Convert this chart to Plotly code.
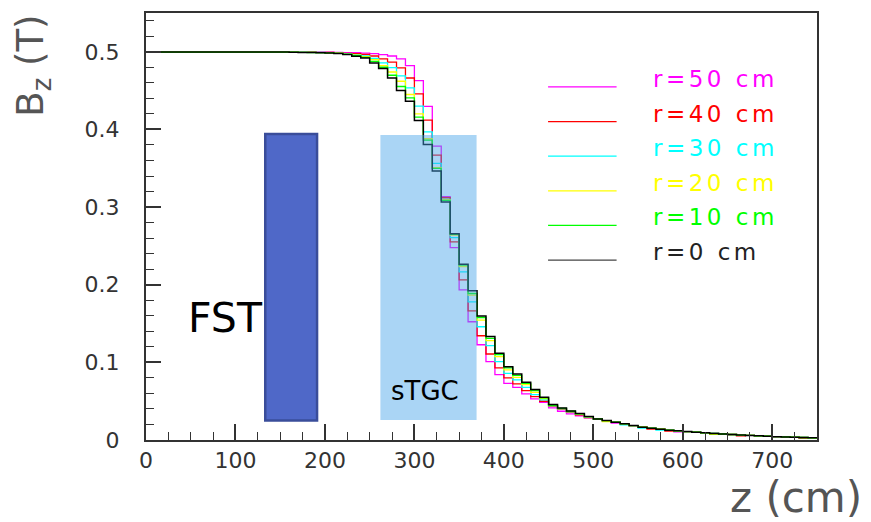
import plotly.graph_objects as go

# ---------------- data ----------------
z_edges = list(range(0, 760, 10))  # bin edges in cm (75 bins of 10 cm)

series_labels = ["r=50 cm", "r=40 cm", "r=30 cm", "r=20 cm", "r=10 cm", "r=0 cm"]
series_colors = ["#ff00ff", "#ff0000", "#00ffff", "#ffff00", "#00ff00", "#000000"]

bz_r50 = [0.4997, 0.4997, 0.4997, 0.4997, 0.4997, 0.4997, 0.4997, 0.4997, 0.4997, 0.4997,
          0.4997, 0.4997, 0.4997, 0.4997, 0.4997, 0.4997, 0.4997, 0.4997, 0.4996, 0.4996,
          0.4995, 0.4993, 0.4990, 0.4988, 0.4984, 0.4978, 0.4963, 0.4946, 0.4910, 0.4823,
          0.4630, 0.4296, 0.3785, 0.3134, 0.2478, 0.1934, 0.1523, 0.1227, 0.1009, 0.0842,
          0.0730, 0.0679, 0.0594, 0.0530, 0.0486, 0.0414, 0.0370, 0.0337, 0.0312, 0.0285,
          0.0272, 0.0250, 0.0217, 0.0208, 0.0186, 0.0165, 0.0152, 0.0139, 0.0126, 0.0106,
          0.0109, 0.0100, 0.0093, 0.0084, 0.0077, 0.0071, 0.0064, 0.0059, 0.0054, 0.0049,
          0.0043, 0.0040, 0.0036, 0.0032, 0.0028]

bz_r40 = [0.4997, 0.4997, 0.4997, 0.4997, 0.4997, 0.4997, 0.4997, 0.4997, 0.4997, 0.4997,
          0.4997, 0.4997, 0.4997, 0.4997, 0.4997, 0.4997, 0.4997, 0.4996, 0.4995, 0.4994,
          0.4993, 0.4987, 0.4981, 0.4978, 0.4968, 0.4946, 0.4910, 0.4867, 0.4792, 0.4663,
          0.4458, 0.4120, 0.3670, 0.3120, 0.2551, 0.2063, 0.1664, 0.1343, 0.1108, 0.0928,
          0.0800, 0.0722, 0.0636, 0.0559, 0.0499, 0.0432, 0.0395, 0.0356, 0.0325, 0.0290,
          0.0272, 0.0250, 0.0229, 0.0208, 0.0186, 0.0165, 0.0140, 0.0139, 0.0114, 0.0118,
          0.0109, 0.0100, 0.0093, 0.0084, 0.0077, 0.0071, 0.0052, 0.0059, 0.0054, 0.0049,
          0.0043, 0.0040, 0.0036, 0.0020, 0.0028]

bz_r30 = [0.4997, 0.4997, 0.4997, 0.4997, 0.4997, 0.4997, 0.4997, 0.4997, 0.4997, 0.4997,
          0.4997, 0.4997, 0.4997, 0.4997, 0.4997, 0.4997, 0.4996, 0.4995, 0.4993, 0.4991,
          0.4989, 0.4984, 0.4975, 0.4965, 0.4948, 0.4916, 0.4858, 0.4796, 0.4690, 0.4535,
          0.4300, 0.3969, 0.3563, 0.3100, 0.2607, 0.2166, 0.1780, 0.1459, 0.1215, 0.1009,
          0.0859, 0.0774, 0.0679, 0.0585, 0.0517, 0.0440, 0.0400, 0.0362, 0.0330, 0.0294,
          0.0272, 0.0250, 0.0229, 0.0196, 0.0186, 0.0153, 0.0152, 0.0127, 0.0126, 0.0118,
          0.0109, 0.0100, 0.0093, 0.0084, 0.0077, 0.0071, 0.0064, 0.0059, 0.0054, 0.0049,
          0.0043, 0.0040, 0.0036, 0.0032, 0.0028]

bz_r20 = [0.4997, 0.4997, 0.4997, 0.4997, 0.4997, 0.4997, 0.4997, 0.4997, 0.4997, 0.4997,
          0.4997, 0.4997, 0.4997, 0.4997, 0.4997, 0.4997, 0.4996, 0.4994, 0.4992, 0.4990,
          0.4988, 0.4982, 0.4970, 0.4958, 0.4938, 0.4900, 0.4823, 0.4740, 0.4621, 0.4450,
          0.4201, 0.3880, 0.3507, 0.3095, 0.2640, 0.2235, 0.1865, 0.1545, 0.1279, 0.1073,
          0.0902, 0.0807, 0.0713, 0.0614, 0.0533, 0.0444, 0.0404, 0.0367, 0.0334, 0.0298,
          0.0272, 0.0238, 0.0229, 0.0208, 0.0186, 0.0165, 0.0152, 0.0139, 0.0126, 0.0118,
          0.0109, 0.0100, 0.0093, 0.0072, 0.0077, 0.0071, 0.0064, 0.0059, 0.0054, 0.0049,
          0.0043, 0.0040, 0.0036, 0.0032, 0.0028]

bz_r10 = [0.4997, 0.4997, 0.4997, 0.4997, 0.4997, 0.4997, 0.4997, 0.4997, 0.4997, 0.4997,
          0.4997, 0.4997, 0.4997, 0.4997, 0.4997, 0.4997, 0.4995, 0.4993, 0.4991, 0.4989,
          0.4987, 0.4980, 0.4968, 0.4951, 0.4929, 0.4878, 0.4801, 0.4698, 0.4553, 0.4406,
          0.4158, 0.3862, 0.3499, 0.3087, 0.2650, 0.2252, 0.1887, 0.1578, 0.1309, 0.1099,
          0.0928, 0.0833, 0.0730, 0.0636, 0.0542, 0.0447, 0.0408, 0.0370, 0.0338, 0.0300,
          0.0272, 0.0250, 0.0229, 0.0208, 0.0186, 0.0165, 0.0152, 0.0139, 0.0126, 0.0118,
          0.0109, 0.0100, 0.0093, 0.0084, 0.0077, 0.0071, 0.0064, 0.0059, 0.0054, 0.0049,
          0.0043, 0.0040, 0.0036, 0.0032, 0.0028]

bz_r0 = [0.4997, 0.4997, 0.4997, 0.4997, 0.4997, 0.4997, 0.4997, 0.4997, 0.4997, 0.4997,
         0.4997, 0.4997, 0.4997, 0.4997, 0.4997, 0.4997, 0.4994, 0.4992, 0.4990, 0.4988,
         0.4985, 0.4978, 0.4964, 0.4942, 0.4920, 0.4856, 0.4784, 0.4663, 0.4501, 0.4364,
         0.4116, 0.3807, 0.3464, 0.3066, 0.2658, 0.2265, 0.1922, 0.1596, 0.1334, 0.1116,
         0.0945, 0.0851, 0.0743, 0.0649, 0.0550, 0.0456, 0.0413, 0.0373, 0.0340, 0.0302,
         0.0272, 0.0250, 0.0229, 0.0208, 0.0186, 0.0165, 0.0152, 0.0139, 0.0126, 0.0118,
         0.0109, 0.0100, 0.0093, 0.0084, 0.0077, 0.0071, 0.0064, 0.0059, 0.0054, 0.0049,
         0.0043, 0.0040, 0.0036, 0.0032, 0.0028]

series_values = [bz_r50, bz_r40, bz_r30, bz_r20, bz_r10, bz_r0]

x_tick_vals = [0, 100, 200, 300, 400, 500, 600, 700]
y_tick_vals = [0, 0.1, 0.2, 0.3, 0.4, 0.5]

# ---------------- figure ----------------
FONT = "DejaVu Sans"
fig = go.Figure()

for name, vals, col in zip(series_labels, series_values, series_colors):
    fig.add_trace(go.Scatter(
        x=z_edges, y=vals + [vals[-1]], mode="lines", name=name,
        line=dict(color=col, width=1.5 if col == "#000000" else 1.3, shape="hv"),
        showlegend=False, hoverinfo="skip"))

shapes = []
# FST block
shapes.append(dict(type="rect", xref="x", yref="y", x0=133.3, x1=191.2, y0=0.0251, y1=0.3943,
                   fillcolor="#4f68c8", line=dict(color="#3a4d9a", width=2.5), layer="above"))
# sTGC block (semi transparent, drawn over the curves)
shapes.append(dict(type="rect", xref="x", yref="y", x0=262.0, x1=369.5, y0=0.0258, y1=0.3927,
                   fillcolor="rgb(67,162,233)", opacity=0.45, line=dict(width=0), layer="above"))

annotations = []
# legend (manual, ROOT style)
leg_y = [0.4548, 0.4102, 0.3656, 0.3210, 0.2764, 0.2318]
for name, col, yy in zip(series_labels, series_colors, leg_y):
    shapes.append(dict(type="line", xref="x", yref="y", x0=449.4, x1=526.0, y0=yy, y1=yy,
                       line=dict(color=col if col != "#000000" else "#444444", width=1.3)))
    annotations.append(dict(xref="x", yref="y", x=564.4, y=yy, yshift=8, xanchor="left",
                            yanchor="middle", showarrow=False,
                            text='<span style="letter-spacing:3.5px">' + name + '</span>',
                            font=dict(family=FONT, size=23,
                                      color=col if col != "#000000" else "#222222")))

annotations.append(dict(xref="x", yref="y", x=88.5, y=0.1575, text="FST", showarrow=False,
                        xanchor="center", yanchor="middle",
                        font=dict(family=FONT, size=41, color="#000000")))
annotations.append(dict(xref="x", yref="y", x=311.9, y=0.0636, text="sTGC", showarrow=False,
                        xanchor="center", yanchor="middle",
                        font=dict(family=FONT, size=26, color="#000000")))
# axis titles
annotations.append(dict(xref="paper", yref="paper", x=0, y=0.8765, xshift=-113,
                        text="B<sub>z</sub> (T)", textangle=-90, showarrow=False,
                        xanchor="center", yanchor="middle",
                        font=dict(family=FONT, size=37, color="#555555")))
annotations.append(dict(xref="paper", yref="paper", x=1, y=0, xshift=47, yshift=-57,
                        text="z (cm)", showarrow=False, xanchor="right", yanchor="middle",
                        font=dict(family=FONT, size=42, color="#555555")))

axis_common = dict(showgrid=False, zeroline=False, showline=True, linecolor="#333333",
                   linewidth=2, mirror=True, ticks="inside", tickcolor="#333333",
                   tickfont=dict(family=FONT, size=22, color="#333333"))

fig.update_layout(
    width=871, height=522,
    margin=dict(l=146, r=54, t=11, b=82),
    paper_bgcolor="white", plot_bgcolor="white",
    shapes=shapes, annotations=annotations,
    xaxis=dict(range=[0, 750], tickvals=x_tick_vals, ticklen=16, tickwidth=1.5,
               minor=dict(ticks="inside", dtick=25, tick0=0, ticklen=8, tickcolor="#333333", tickwidth=1),
               ticklabelstandoff=0, **axis_common),
    yaxis=dict(range=[0, 0.55], tickvals=y_tick_vals, ticklen=15, tickwidth=1.5,
               minor=dict(ticks="inside", dtick=0.02, tick0=0, ticklen=8, tickcolor="#333333", tickwidth=1),
               ticklabelstandoff=20, **axis_common),
)

fig.write_html("out.html")
